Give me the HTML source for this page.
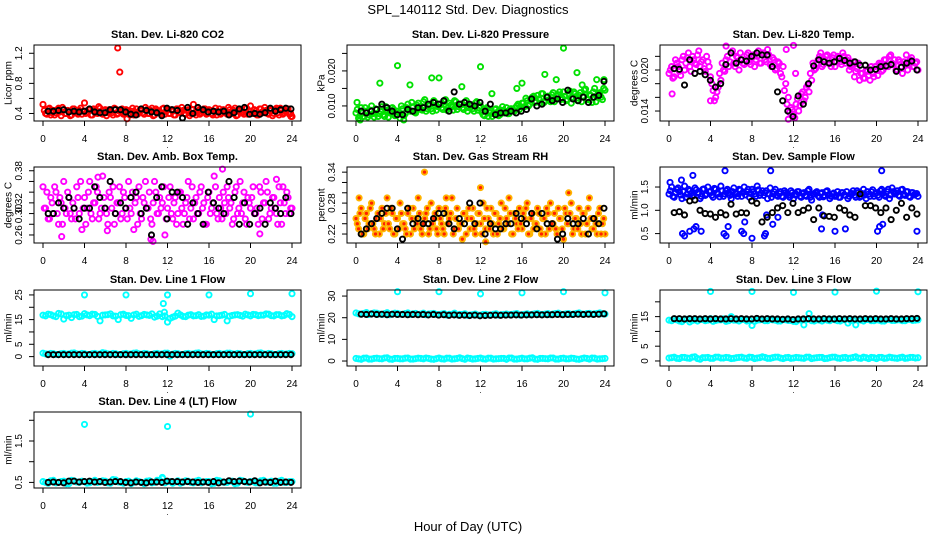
<!DOCTYPE html>
<html><head><meta charset="utf-8"><style>
html,body{margin:0;padding:0;background:#fff;}
svg{display:block;font-family:"Liberation Sans",sans-serif;}
</style></head><body>
<svg id="chart" width="936" height="540" viewBox="0 0 936 540">
<text x="468" y="14" text-anchor="middle" font-size="13">SPL_140112  Std. Dev. Diagnostics</text>
<text x="468" y="531" text-anchor="middle" font-size="13">Hour of Day (UTC)</text>
</svg>
<script>
// ---- data (std. dev. values) ----
const hourTicks = [0,4,8,12,16,20,24];
const hourTickLabels = ['0','4','8','12','16','20','24'];

const co2Red = [0.52,0.40,0.46,0.38,0.44,0.41,0.47,0.37,0.45,0.40,0.43,0.38,0.46,0.41,0.44,0.39,0.54,0.42,0.45,0.38,0.44,0.40,0.47,0.39,0.45,0.41,0.43,0.38,0.46,0.40,0.44,0.39,0.45,0.40,0.43,0.38,0.46,0.41,0.44,0.39,0.45,0.40,0.47,0.38,0.44,0.41,0.46,0.39,0.45,0.40,0.43,0.38,0.46,0.41,0.44,0.39,0.45,0.40,0.52,0.38,0.44,0.41,0.46,0.39,0.45,0.40,0.43,0.38,0.46,0.41,0.44,0.39,0.45,0.40,0.47,0.38,0.44,0.41,0.46,0.39,0.50,0.40,0.43,0.38,0.46,0.41,0.44,0.39,0.45,0.40,0.47,0.38,0.44,0.41,0.46,0.39,0.36];
const co2Red2 = [0.44,0.39,0.47,0.41,0.38,0.45,0.42,0.48,0.40,0.44,0.37,0.46,0.42,0.39,0.47,0.43,0.40,0.45,0.38,0.46,0.42,0.49,0.40,0.44,0.37,0.45,0.41,0.47,0.39,0.43,0.46,0.40,0.44,0.38,0.47,0.42,0.39,0.45,0.41,0.48,0.40,0.44,0.37,0.46,0.42,0.39,0.47,0.43,0.40,0.45,0.38,0.46,0.42,0.48,0.40,0.44,0.37,0.45,0.41,0.47,0.39,0.43,0.46,0.40,0.44,0.38,0.47,0.42,0.39,0.45,0.41,0.48,0.40,0.44,0.37,0.46,0.42,0.39,0.47,0.43,0.40,0.45,0.38,0.46,0.42,0.48,0.40,0.44,0.37,0.45,0.41,0.47,0.39,0.43,0.46,0.40];
const co2OutX = [7.2,7.4,8.1,23.9];
const co2OutY = [1.27,0.95,0.33,0.36];
const co2Black = [0.43,0.43,0.44,0.45,0.42,0.43,0.42,0.43,0.46,0.42,0.41,0.41,0.45,0.45,0.45,0.42,0.39,0.38,0.46,0.44,0.42,0.41,0.37,0.47,0.45,0.44,0.34,0.48,0.40,0.48,0.45,0.42,0.43,0.42,0.43,0.38,0.41,0.46,0.48,0.39,0.40,0.39,0.41,0.47,0.43,0.45,0.47,0.46];

const presGreen = [0.008,0.0065,0.0095,0.007,0.0085,0.0075,0.0100,0.0068,0.0090,0.0078,0.0098,0.0070,0.0088,0.0080,0.0095,0.0072,0.0085,
0.0065,0.0092,0.0078,0.0105,0.0085,0.0098,0.0080,0.0108,0.0090,0.0112,0.0085,0.0100,0.0092,0.0115,0.0088,0.0105,
0.0095,0.0112,0.0088,0.0108,0.0098,0.0115,0.0090,0.0105,0.0095,0.0110,0.0085,0.0102,0.0092,0.0108,0.0088,0.0100,
0.0075,0.0090,0.0070,0.0085,0.0078,0.0092,0.0072,0.0088,0.0080,0.0095,0.0078,0.0092,0.0085,0.0100,0.0090,0.0108,
0.0098,0.0115,0.0105,0.0125,0.0110,0.0130,0.0108,0.0135,0.0115,0.0128,0.0112,0.0138,0.0120,0.0132,0.0118,0.0140,
0.0115,0.0135,0.0108,0.0140,0.0122,0.0130,0.0112,0.0145,0.0120,0.0132,0.0110,0.0150,0.0125,0.0138,0.0118,0.0145];
const presGreen2 = [0.0090,0.0072,0.0080,0.0095,0.0068,0.0088,0.0078,0.0092,0.0070,0.0085,0.0075,0.0098,0.0068,0.0082,0.0090,0.0075,
0.0080,0.0100,0.0072,0.0095,0.0088,0.0110,0.0082,0.0102,0.0095,0.0088,0.0118,0.0092,0.0105,0.0085,0.0110,0.0098,
0.0105,0.0090,0.0118,0.0095,0.0102,0.0088,0.0112,0.0098,0.0105,0.0090,0.0115,0.0095,0.0100,0.0085,0.0112,0.0095,
0.0082,0.0072,0.0095,0.0080,0.0070,0.0090,0.0082,0.0075,0.0098,0.0085,0.0078,0.0092,0.0088,0.0095,0.0105,0.0098,
0.0108,0.0122,0.0100,0.0118,0.0128,0.0112,0.0120,0.0135,0.0110,0.0125,0.0118,0.0132,0.0112,0.0128,0.0140,0.0122,
0.0128,0.0118,0.0142,0.0125,0.0135,0.0115,0.0138,0.0128,0.0148,0.0118,0.0130,0.0140,0.0112,0.0135,0.0125,0.0150];
const presOutX = [0.1,2.3,4.0,5.2,7.3,8.0,10.2,12.0,13.1,15.5,16.0,18.2,19.3,20.0,21.3,21.8,23.2,23.9,4.6,0.4];
const presOutY = [0.011,0.0165,0.0215,0.016,0.018,0.018,0.0155,0.0212,0.0135,0.015,0.0165,0.019,0.0175,0.0265,0.0195,0.016,0.0175,0.0175,0.006,0.006];
const presBlack = [0.0085,0.008,0.0085,0.009,0.0105,0.0095,0.0085,0.0075,0.0075,0.009,0.0085,0.0095,0.0095,0.0105,0.0110,0.0105,0.0115,0.0085,0.0140,0.0105,0.0110,0.0105,0.0100,0.0110,0.0085,0.0105,0.0075,0.0080,0.0080,0.0085,0.0080,0.0085,0.0090,0.0120,0.0100,0.0105,0.0125,0.0115,0.0120,0.0110,0.0145,0.0120,0.0115,0.0125,0.0110,0.0125,0.0130,0.0170];

const tempMag = [0.0195,0.0205,0.0190,0.0210,0.0198,0.0215,0.0200,0.0218,0.0205,0.0220,0.0210,0.0222,0.0205,0.0215,0.0198,0.0212,0.0190,
0.0170,0.0160,0.0175,0.0185,
0.0200,0.0215,0.0205,0.0225,0.0210,0.0220,0.0200,0.0215,0.0208,0.0222,0.0212,0.0218,0.0205,0.0220,0.0210,0.0225,0.0215,0.0220,0.0208,0.0218,0.0200,0.0212,0.0195,0.0205,
0.0180,0.0160,0.0145,0.0135,0.0150,0.0140,0.0165,0.0155,0.0175,0.0168,
0.0185,0.0200,0.0210,0.0220,0.0205,0.0215,0.0222,0.0210,0.0218,0.0205,0.0220,0.0212,0.0225,0.0210,0.0218,0.0205,0.0212,0.0198,0.0210,0.0195,0.0188,0.0200,0.0192,0.0205,0.0190,0.0200,0.0210,0.0198,0.0215,0.0205,0.0220,0.0210,0.0215,0.0200,0.0212,0.0195,0.0208,0.0200,0.0215,0.0205,0.0210,0.0200];
const tempMag2 = [0.0200,0.0188,0.0215,0.0205,0.0192,0.0220,0.0210,0.0225,0.0198,0.0215,0.0208,0.0228,0.0212,0.0202,0.0220,0.0205,
0.0180,0.0155,0.0168,0.0195,
0.0210,0.0198,0.0220,0.0212,0.0228,0.0205,0.0218,0.0225,0.0210,0.0215,0.0225,0.0208,0.0222,0.0215,0.0228,0.0210,0.0225,0.0212,0.0222,0.0205,0.0215,0.0202,0.0210,0.0190,
0.0170,0.0150,0.0138,0.0142,0.0130,0.0158,0.0148,0.0168,0.0160,0.0178,
0.0195,0.0210,0.0202,0.0215,0.0225,0.0208,0.0220,0.0215,0.0205,0.0222,0.0212,0.0218,0.0208,0.0220,0.0215,0.0200,0.0208,0.0190,0.0202,0.0185,0.0195,0.0188,0.0198,0.0185,0.0195,0.0205,0.0192,0.0208,0.0200,0.0215,0.0205,0.0222,0.0208,0.0200,0.0215,0.0205,0.0212,0.0222,0.0210,0.0218,0.0205,0.0212];
const tempOutX = [0.3,4.0,11.5,11.3,12.0,9.5,5.5,12.2];
const tempOutY = [0.0165,0.0155,0.0128,0.0230,0.0236,0.0230,0.0235,0.0195];
const tempBlack = [0.0202,0.0201,0.0178,0.0215,0.0195,0.0198,0.0193,0.0185,0.0175,0.0180,0.0208,0.0225,0.0210,0.0215,0.0213,0.0220,0.0225,0.0222,0.0222,0.0205,0.0168,0.0155,0.0140,0.0132,0.0162,0.0150,0.0180,0.0206,0.0215,0.0212,0.0210,0.0212,0.0217,0.0214,0.0210,0.0212,0.0207,0.0207,0.0200,0.0201,0.0205,0.0206,0.0208,0.0198,0.0204,0.0210,0.0213,0.0200];

const ambMag = [0.35,0.31,0.29,0.33,0.30,0.34,0.28,0.32,0.36,0.30,0.33,0.29,0.31,0.35,0.30,0.27,0.33,0.31,0.36,0.29,0.32,0.34,0.30,0.37,0.31,0.28,0.33,0.35,0.30,0.32,0.29,0.34,0.31,0.36,0.30,0.27,0.33,0.35,0.29,0.32,0.31,0.34,0.28,0.36,0.30,0.33,0.32,0.26,0.31,0.35,0.29,0.33,0.30,0.34,0.28,0.32,0.36,0.31,0.29,0.33,0.30,0.35,0.32,0.28,0.34,0.31,0.37,0.30,0.33,0.29,0.32,0.35,0.31,0.28,0.34,0.30,0.36,0.32,0.29,0.33,0.31,0.35,0.30,0.28,0.34,0.32,0.36,0.29,0.31,0.33,0.30,0.35,0.28,0.32,0.34,0.30,0.31];
const ambMag2 = [0.31,0.34,0.29,0.32,0.35,0.30,0.33,0.28,0.31,0.34,0.30,0.32,0.29,0.33,0.36,0.31,0.28,0.34,0.30,0.32,0.35,0.29,0.31,0.33,0.30,0.34,0.31,0.28,0.32,0.35,0.30,0.33,0.29,0.31,0.34,0.32,0.28,0.30,0.33,0.36,0.31,0.29,0.32,0.34,0.30,0.31,0.35,0.29,0.33,0.30,0.32,0.28,0.34,0.31,0.30,0.33,0.29,0.35,0.32,0.30,0.34,0.31,0.28,0.33,0.30,0.32,0.35,0.29,0.31,0.34,0.30,0.33,0.32,0.29,0.35,0.31,0.30,0.34,0.28,0.32,0.33,0.30,0.31,0.35,0.29,0.32,0.34,0.30,0.33,0.31,0.28,0.32,0.35,0.30,0.33,0.31];
const ambOutX = [1.8,5.3,6.2,10.4,10.6,17.3,20.9,22.5];
const ambOutY = [0.257,0.368,0.268,0.252,0.248,0.383,0.262,0.364];
const ambBlack = [0.30,0.30,0.32,0.31,0.33,0.31,0.29,0.31,0.31,0.35,0.33,0.31,0.36,0.30,0.32,0.31,0.33,0.34,0.30,0.31,0.26,0.33,0.35,0.29,0.34,0.34,0.33,0.28,0.32,0.30,0.28,0.34,0.32,0.31,0.30,0.36,0.33,0.28,0.32,0.28,0.30,0.31,0.28,0.32,0.31,0.30,0.33,0.30];

const rhOrange = [0.25,0.23,0.27,0.22,0.26,0.24,0.28,0.23,0.25,0.22,0.27,0.24,0.29,0.23,0.26,0.22,0.25,0.28,0.24,0.23,0.26,0.22,0.27,0.25,0.29,0.23,0.24,0.26,0.22,0.28,0.25,0.23,0.27,0.24,0.22,0.26,0.25,0.29,0.23,0.27,0.24,0.21,0.26,0.25,0.23,0.27,0.22,0.26,0.24,0.28,0.23,0.25,0.27,0.22,0.26,0.24,0.28,0.23,0.25,0.29,0.22,0.26,0.24,0.27,0.23,0.25,0.28,0.22,0.26,0.24,0.27,0.23,0.25,0.22,0.26,0.28,0.24,0.23,0.27,0.25,0.21,0.26,0.24,0.28,0.23,0.25,0.27,0.22,0.26,0.24,0.29,0.23,0.25,0.22,0.27,0.24,0.22];
const rhOrange2 = [0.24,0.26,0.22,0.25,0.23,0.27,0.24,0.22,0.26,0.25,0.23,0.26,0.24,0.27,0.22,0.25,0.23,0.26,0.24,0.22,0.27,0.25,0.23,0.24,0.26,0.22,0.25,0.27,0.23,0.24,0.26,0.22,0.25,0.23,0.27,0.24,0.26,0.22,0.25,0.23,0.24,0.26,0.22,0.27,0.25,0.23,0.24,0.26,0.22,0.25,0.27,0.23,0.24,0.26,0.22,0.25,0.23,0.27,0.24,0.26,0.22,0.25,0.23,0.24,0.26,0.27,0.22,0.25,0.23,0.24,0.26,0.22,0.25,0.27,0.23,0.24,0.26,0.22,0.25,0.23,0.27,0.24,0.26,0.22,0.25,0.23,0.24,0.26,0.22,0.27,0.25,0.23,0.24,0.26,0.22,0.25];
const rhOutX = [6.6,12.0,20.5,0.3,8.7,12.5];
const rhOutY = [0.34,0.31,0.30,0.29,0.29,0.205];
const rhBlack = [0.22,0.23,0.24,0.25,0.26,0.27,0.27,0.23,0.21,0.27,0.24,0.25,0.24,0.24,0.25,0.26,0.26,0.24,0.23,0.25,0.24,0.28,0.24,0.28,0.22,0.24,0.23,0.23,0.24,0.24,0.26,0.25,0.24,0.26,0.23,0.26,0.24,0.24,0.21,0.22,0.25,0.24,0.24,0.25,0.22,0.25,0.24,0.27];

const flowBlue = [1.35,1.50,1.28,1.45,1.40,1.25,1.52,1.35,1.42,1.30,1.48,1.38,1.25,1.45,1.32,1.50,1.40,1.28,1.45,1.35,1.52,1.30,1.42,1.38,1.25,1.48,1.35,1.45,1.30,1.50,1.40,1.28,1.45,1.35,1.52,1.32,1.42,1.38,1.25,1.48,1.35,1.45,1.30,1.40,1.28,1.38,1.32,1.42,1.25,1.35,1.40,1.28,1.38,1.30,1.45,1.22,1.35,1.40,1.28,1.38,1.32,1.42,1.25,1.35,1.30,1.40,1.28,1.38,1.32,1.25,1.35,1.42,1.28,1.38,1.30,1.45,1.25,1.35,1.40,1.30,1.38,1.28,1.45,1.32,1.40,1.25,1.48,1.35,1.42,1.30,1.45,1.32,1.40,1.28,1.38,1.35,1.30];
const flowBlue2 = [1.42,1.30,1.38,1.48,1.33,1.40,1.28,1.45,1.36,1.32,1.44,1.38,1.30,1.46,1.35,1.40,1.32,1.47,1.36,1.29,1.42,1.35,1.45,1.32,1.40,1.36,1.30,1.43,1.38,1.33,1.45,1.36,1.40,1.30,1.44,1.37,1.32,1.42,1.35,1.28,1.40,1.33,1.36,1.30,1.42,1.35,1.28,1.38,1.33,1.40,1.30,1.36,1.32,1.42,1.28,1.35,1.38,1.31,1.36,1.29,1.40,1.33,1.30,1.37,1.32,1.28,1.38,1.33,1.40,1.30,1.36,1.32,1.42,1.28,1.36,1.33,1.40,1.30,1.44,1.35,1.32,1.42,1.36,1.30,1.45,1.33,1.40,1.37,1.32,1.44,1.35,1.40,1.30,1.38,1.33,1.36];
const flowOutX = [1.3,1.5,2.0,2.4,2.6,3.1,5.3,5.5,5.7,7.0,7.2,7.3,8.0,9.2,9.3,10.0,10.5,9.4,14.7,14.8,16.0,17.0,20.1,20.3,20.6,23.9,5.4,9.8,20.5,2.3,0.1,1.2];
const flowOutY = [0.5,0.45,0.55,0.6,0.65,0.55,0.5,0.45,0.65,0.55,0.5,0.75,0.4,0.45,0.5,0.7,0.85,0.9,0.6,0.9,0.55,0.6,0.55,0.65,0.7,0.55,1.85,1.85,1.85,1.75,1.6,1.65];
const flowBlack = [0.95,0.97,0.90,1.20,1.22,1.00,0.93,0.92,0.85,0.95,0.90,1.13,0.92,0.95,0.94,1.20,1.15,0.75,0.85,0.95,1.05,1.10,0.95,1.15,0.95,1.00,1.05,0.80,1.05,0.88,0.87,0.85,1.05,1.00,0.90,0.85,1.35,1.10,1.10,1.05,0.95,1.05,0.80,1.00,1.15,0.85,1.05,0.92];

const line1Hi = [16.8,17.2,16.5,17.5,15.2,16.8,17.0,16.2,17.4,16.6,17.1,14.5,16.9,17.3,16.4,17.0,16.7,15.5,17.2,16.6,16.9,17.3,16.4,16.2,14.0,16.0,17.6,16.3,16.8,16.5,17.0,16.4,16.8,15.0,16.6,17.1,16.4,16.9,16.7,17.2,16.5,17.0,16.8,17.3,16.6,17.0,16.5,17.4,16.2];
const line1Hi2 = [16.5,17.0,16.2,17.3,16.6,15.8,17.1,16.4,16.9,17.2,16.3,16.8,17.0,16.5,15.0,17.2,16.6,16.9,16.3,17.1,16.7,16.0,17.3,16.5,15.5,16.4,16.9,16.2,17.0,16.6,16.3,16.9,17.2,16.5,16.8,14.5,16.7,17.0,16.4,16.9,17.1,16.6,16.8,17.2,16.5,17.0,16.7,17.1];
const line1Lo = [1.4,1.0,1.2,0.9,1.3,1.1,1.5,1.0,1.2,0.9,1.3,1.1,1.4,1.0,1.2,0.9,1.3,1.1,1.5,1.0,1.2,0.9,1.3,1.1,1.4,1.0,1.2,0.9,1.3,1.1,1.5,1.0,1.2,0.9,1.3,1.1,1.4,1.0,1.2,0.9,1.3,1.1,1.5,1.0,1.2,0.9,1.3,1.1,1.2];
const line1Lo2 = [1.1,1.3,0.9,1.2,1.0,1.4,1.1,1.3,0.9,1.2,1.0,1.6,1.1,1.3,0.9,1.2,1.0,1.4,1.1,1.3,0.9,1.2,1.0,1.4,0.2,1.3,0.9,1.2,1.0,1.4,1.1,1.3,0.9,1.2,1.0,1.4,1.1,1.3,0.9,1.2,1.0,1.4,1.1,1.3,0.9,1.2,1.0,1.3];
const line1OutX = [4,8,12,16,20,24,11.6,11.7];
const line1OutY = [25,25,25,25,25.5,25.5,21.5,18];
const line1Black = [0.8,0.8,0.8,0.8,0.8,0.8,0.8,0.8,0.8,0.8,0.8,0.8,0.8,0.8,0.8,0.8,0.8,0.8,0.8,0.8,0.8,0.8,0.8,0.8,0.8,0.8,0.8,0.8,0.8,0.8,0.8,0.8,0.8,0.8,0.8,0.8,0.8,0.8,0.8,0.8,0.8,0.8,0.8,0.8,0.8,0.8,0.8,0.8];

const line2Hi = [22.2,21.6,22.4,21.8,22.1,21.5,22.3,21.7,22.0,21.6,22.2,21.8,21.5,22.1,21.7,22.0,21.4,21.9,21.6,22.1,21.5,21.8,21.3,21.7,21.2,21.6,21.3,21.8,21.4,21.7,21.5,21.9,21.4,21.8,21.6,22.0,21.5,21.9,21.7,22.1,21.6,21.9,21.7,22.2,21.6,22.0,21.8,22.2,21.7];
const line2Hi2 = [21.8,22.0,21.5,22.2,21.7,21.9,21.4,22.1,21.6,21.9,21.5,22.0,21.7,21.4,21.8,21.5,21.7,21.2,21.6,21.3,21.5,21.1,21.4,21.2,21.5,21.3,21.6,21.2,21.5,21.4,21.7,21.3,21.6,21.4,21.8,21.5,21.7,21.4,21.9,21.6,21.8,21.5,22.0,21.7,21.9,21.6,22.0,21.8];
const line2Lo = [1.2,0.8,1.4,0.9,1.3,1.0,1.5,0.8,1.2,1.0,1.4,0.9,1.3,1.0,1.2,0.8,1.4,0.9,1.3,1.0,1.5,0.8,1.2,1.0,1.4,0.9,1.3,1.0,1.2,0.8,1.4,0.9,1.3,1.0,1.5,0.8,1.2,1.0,1.4,0.9,1.3,1.0,1.2,0.8,1.4,0.9,1.3,1.0,1.2];
const line2Lo2 = [1.0,1.3,0.9,1.2,1.1,1.4,0.9,1.2,1.0,1.3,0.9,1.1,1.2,1.4,0.9,1.1,1.0,1.3,0.9,1.2,1.1,1.4,0.9,1.2,1.0,1.3,0.9,1.1,1.2,1.4,0.9,1.1,1.0,1.3,0.9,1.2,1.1,1.4,0.9,1.2,1.0,1.3,0.9,1.1,1.2,1.4,0.9,1.1];
const line2OutX = [4,8,12,16,20,24];
const line2OutY = [32,32,31,31.5,32,31.5];
const line2Black = [21.6,21.5,21.7,21.5,21.6,21.4,21.6,21.5,21.5,21.4,21.5,21.4,21.5,21.3,21.5,21.2,21.4,21.1,21.3,21.1,21.2,21.0,21.2,20.9,21.0,21.1,21.2,21.1,21.2,21.2,21.3,21.2,21.3,21.3,21.4,21.3,21.4,21.4,21.5,21.4,21.5,21.5,21.6,21.5,21.6,21.5,21.6,21.8];

const line3Hi = [13.8,14.2,13.5,14.0,13.2,13.9,14.1,13.6,14.3,13.7,13.9,13.4,15.0,13.8,14.0,13.5,12.0,13.8,14.1,13.6,13.9,13.5,14.0,13.7,13.4,13.9,12.2,16.0,13.5,13.8,14.0,13.6,13.9,13.5,14.1,13.7,12.2,13.8,14.0,13.6,13.9,13.5,14.1,13.7,13.9,13.6,14.0,13.7,13.9];
const line3Hi2 = [13.6,13.9,13.3,14.1,13.7,13.5,14.0,13.8,13.4,13.9,14.2,13.6,13.8,13.5,14.0,13.7,13.4,13.9,13.6,14.1,13.8,13.5,13.9,13.7,13.3,13.8,14.0,13.6,13.9,13.5,13.8,14.1,13.6,13.9,12.8,13.7,13.9,13.5,14.0,13.6,13.8,13.5,14.0,13.7,13.9,13.6,14.0,13.8];
const line3Lo = [1.0,1.3,0.8,1.2,0.9,1.4,0.6,1.1,0.9,1.3,1.0,1.2,0.8,1.1,1.3,0.9,1.2,1.0,1.4,0.9,1.1,1.3,0.8,1.2,1.0,1.1,0.9,1.3,1.0,1.2,0.8,1.1,1.3,0.9,1.2,1.0,1.4,0.9,1.1,1.2,0.8,1.2,1.0,1.1,0.9,1.3,1.0,1.2,1.1];
const line3Lo2 = [1.1,0.9,1.2,1.0,1.3,0.8,1.1,1.2,0.9,1.3,1.0,1.1,0.9,1.2,1.0,1.3,0.8,1.1,1.2,0.9,1.3,1.0,1.1,0.9,1.2,1.0,1.3,0.8,1.1,1.2,0.9,1.3,1.0,1.1,0.9,1.2,1.0,1.3,0.8,1.1,1.2,0.9,1.3,1.0,1.1,0.9,1.2,1.0];
const line3OutX = [4,8,12,16,20,24];
const line3OutY = [23.5,23.5,23.2,23.3,23.6,23.4];
const line3Black = [14.3,14.3,14.2,14.3,14.3,14.2,14.3,14.2,14.3,14.2,14.2,14.3,14.2,14.3,14.2,14.2,14.4,14.2,14.3,14.2,14.2,14.1,14.2,14.0,14.2,14.2,14.3,14.2,14.2,14.3,14.2,14.2,14.3,14.2,14.3,14.2,14.2,14.3,14.2,14.3,14.2,14.2,14.3,14.2,14.2,14.3,14.3,14.4];

const line4Cyan = [0.52,0.48,0.55,0.50,0.53,0.47,0.54,0.50,0.52,0.49,0.55,0.51,0.53,0.48,0.56,0.50,0.52,0.47,0.54,0.50,0.53,0.49,0.55,0.60,0.52,0.48,0.54,0.50,0.53,0.49,0.55,0.51,0.52,0.48,0.54,0.50,0.53,0.47,0.55,0.51,0.52,0.49,0.54,0.50,0.53,0.48,0.55,0.50,0.52];
const line4Cyan2 = [0.50,0.54,0.49,0.52,0.47,0.55,0.51,0.53,0.48,0.52,0.50,0.54,0.49,0.57,0.51,0.48,0.53,0.50,0.52,0.47,0.54,0.50,0.55,0.49,0.52,0.51,0.48,0.54,0.50,0.53,0.49,0.52,0.47,0.55,0.51,0.50,0.53,0.48,0.54,0.50,0.52,0.49,0.55,0.51,0.48,0.53,0.50,0.52];
const line4OutX = [4,12,20,11.5];
const line4OutY = [1.9,1.85,2.15,0.62];
const line4Black = [0.50,0.51,0.50,0.49,0.53,0.53,0.51,0.52,0.53,0.51,0.52,0.50,0.51,0.52,0.52,0.50,0.49,0.51,0.50,0.49,0.51,0.51,0.50,0.53,0.52,0.52,0.51,0.52,0.51,0.50,0.51,0.50,0.52,0.49,0.51,0.54,0.52,0.53,0.52,0.51,0.54,0.49,0.51,0.50,0.53,0.50,0.51,0.50];

// ---- layout / panel config ----
const colX0 = [43,356,669];
const rowTop = [45,167,290,412];
const PW = 249, PH = 76;
const panels = [
 {key:'co2', r:0,c:0,title:'Stan. Dev. Li-820 CO2',ylab:'Licor ppm',dom:[0.30,1.31],ticks:[0.4,0.6,0.8,1.0,1.2],labels:['0.4','','0.8','','1.2'],color:'#ff0000',bands:[co2Red],bands2:[co2Red2],ox:co2OutX,oy:co2OutY,black:co2Black},
 {key:'pressure', r:0,c:1,title:'Stan. Dev. Li-820 Pressure',ylab:'kPa',dom:[0.0057,0.0274],ticks:[0.010,0.015,0.020,0.025],labels:['0.010','','0.020',''],color:'#00e000',bands:[presGreen],bands2:[presGreen2],ox:presOutX,oy:presOutY,black:presBlack},
 {key:'li-temp', r:0,c:2,title:'Stan. Dev. Li-820 Temp.',ylab:'degrees C',dom:[0.01254,0.02366],ticks:[0.014,0.016,0.018,0.020,0.022],labels:['0.014','','','0.020',''],color:'#ff00ff',bands:[tempMag],bands2:[tempMag2],ox:tempOutX,oy:tempOutY,black:tempBlack},
 {key:'amb-temp', r:1,c:0,title:'Stan. Dev. Amb. Box Temp.',ylab:'degrees C',dom:[0.245,0.387],ticks:[0.26,0.28,0.30,0.32,0.34,0.36,0.38],labels:['0.26','','0.30','0.32','','','0.38'],color:'#ff00ff',bands:[ambMag],bands2:[ambMag2],ox:ambOutX,oy:ambOutY,black:ambBlack},
 {key:'rh', r:1,c:1,title:'Stan. Dev. Gas Stream RH',ylab:'percent',dom:[0.2026,0.35],ticks:[0.22,0.24,0.26,0.28,0.30,0.32,0.34],labels:['0.22','','','0.28','','','0.34'],color:'#ffb400',bands:[rhOrange],bands2:[rhOrange2],ox:rhOutX,oy:rhOutY,black:rhBlack,inner:'#ff2000'},
 {key:'sample-flow', r:1,c:2,title:'Stan. Dev. Sample Flow',ylab:'ml/min',dom:[0.298,1.93],ticks:[0.5,1.0,1.5],labels:['0.5','1.0','1.5'],color:'#0000ff',bands:[flowBlue],bands2:[flowBlue2],ox:flowOutX,oy:flowOutY,black:flowBlack},
 {key:'line1', r:2,c:0,title:'Stan. Dev. Line 1 Flow',ylab:'ml/min',dom:[-3.8,27],ticks:[0,5,10,15,20,25],labels:['0','5','','15','','25'],color:'#00ffff',bands:[line1Hi,line1Lo],bands2:[line1Hi2,line1Lo2],ox:line1OutX,oy:line1OutY,black:line1Black},
 {key:'line2', r:2,c:1,title:'Stan. Dev. Line 2 Flow',ylab:'ml/min',dom:[-2.3,32.8],ticks:[0,10,20,30],labels:['0','10','20','30'],color:'#00ffff',bands:[line2Hi,line2Lo],bands2:[line2Hi2,line2Lo2],ox:line2OutX,oy:line2OutY,black:line2Black},
 {key:'line3', r:2,c:2,title:'Stan. Dev. Line 3 Flow',ylab:'ml/min',dom:[-1.7,24],ticks:[0,5,10,15,20],labels:['0','5','','15',''],color:'#00ffff',bands:[line3Hi,line3Lo],bands2:[line3Hi2,line3Lo2],ox:line3OutX,oy:line3OutY,black:line3Black},
 {key:'line4', r:3,c:0,title:'Stan. Dev. Line 4 (LT) Flow',ylab:'ml/min',dom:[0.365,2.2],ticks:[0.5,1.0,1.5,2.0],labels:['0.5','','1.5',''],color:'#00ffff',bands:[line4Cyan],bands2:[line4Cyan2],ox:line4OutX,oy:line4OutY,black:line4Black}
];

const NS='http://www.w3.org/2000/svg';
const svg=document.getElementById('chart');
function mk(tag,attrs,parent){const e=document.createElementNS(NS,tag);for(const k in attrs)e.setAttribute(k,attrs[k]);(parent||svg).appendChild(e);return e;}

panels.forEach(p=>{
  const x0=colX0[p.c], top=rowTop[p.r], bot=top+PH;
  const sx=h=>x0+h/24*PW;
  const sy=v=>bot-(v-p.dom[0])/(p.dom[1]-p.dom[0])*PH;
  const g=mk('g',{});
  
  
  const bl=x0-9, br=x0+PW+9;
  const t=mk('text',{x:(bl+br)/2,y:top-7,'text-anchor':'middle','font-size':'11','font-weight':'bold'},g);
  t.textContent=p.title;
  
  
  const yl=mk('text',{transform:`translate(${bl-25},${(top+bot)/2}) rotate(-90)`,'text-anchor':'middle','dominant-baseline':'central','font-size':'10'},g);
  yl.textContent=p.ylab;
  
  
  const pts=mk('g',{},g);
  
  
  const dot=(cx,cy,col,fill)=>mk('circle',{cx:cx,cy:cy,r:2.6,fill:fill,stroke:col,'stroke-width':1.9},pts);
  p.bands.forEach(arr=>{
    const n=arr.length;
    arr.forEach((v,i)=>{
      const c=dot(sx(24*i/(n-1)),sy(v),p.color,p.inner?p.inner:'none');
      
      
    });
  });
  p.bands2.forEach(arr=>{
    const n=arr.length;
    arr.forEach((v,i)=>{
      const c=dot(sx(24*(i+0.5)/n),sy(v),p.color,p.inner?p.inner:'none');
      
      
    });
  });
  p.ox.forEach((hx,i)=>{
    const c=dot(sx(hx),sy(p.oy[i]),p.color,p.inner?p.inner:'none');
    
    
  });
  const nb=p.black.length;
  p.black.forEach((v,i)=>{
    const c=dot(sx(0.5+23.4*i/(nb-1)),sy(v),'#000','none');
    
    
  });
  const box=mk('rect',{x:bl,y:top,width:br-bl,height:PH,fill:'none',stroke:'#000','stroke-width':1},g);
  
  
  const xa=mk('g',{},g);
  
  
  mk('line',{x1:sx(hourTicks[0]),x2:sx(hourTicks[hourTicks.length-1]),y1:bot,y2:bot,stroke:'#000'},xa);
  hourTicks.forEach((h,i)=>{
    mk('line',{x1:sx(h),x2:sx(h),y1:bot,y2:bot+5,stroke:'#000'},xa);
    const tl=mk('text',{x:sx(h),y:bot+21,'text-anchor':'middle','font-size':'10'},xa);
    tl.textContent=hourTickLabels[i];
    
    
  });
  const dt=mk('text',{x:(bl+br)/2,y:bot+27,'text-anchor':'middle','font-size':'8'},xa);
  dt.textContent='.';
  const ya=mk('g',{},g);
  
  
  p.ticks.forEach((v,i)=>{
    mk('line',{x1:bl,x2:bl-5,y1:sy(v),y2:sy(v),stroke:'#000'},ya);
    if(p.labels[i]){
      const tl=mk('text',{transform:`translate(${bl-12},${sy(v)}) rotate(-90)`,'text-anchor':'middle','font-size':'10'},ya);
      tl.textContent=p.labels[i];
      
      
    }
  });
});
</script>
</body></html>
